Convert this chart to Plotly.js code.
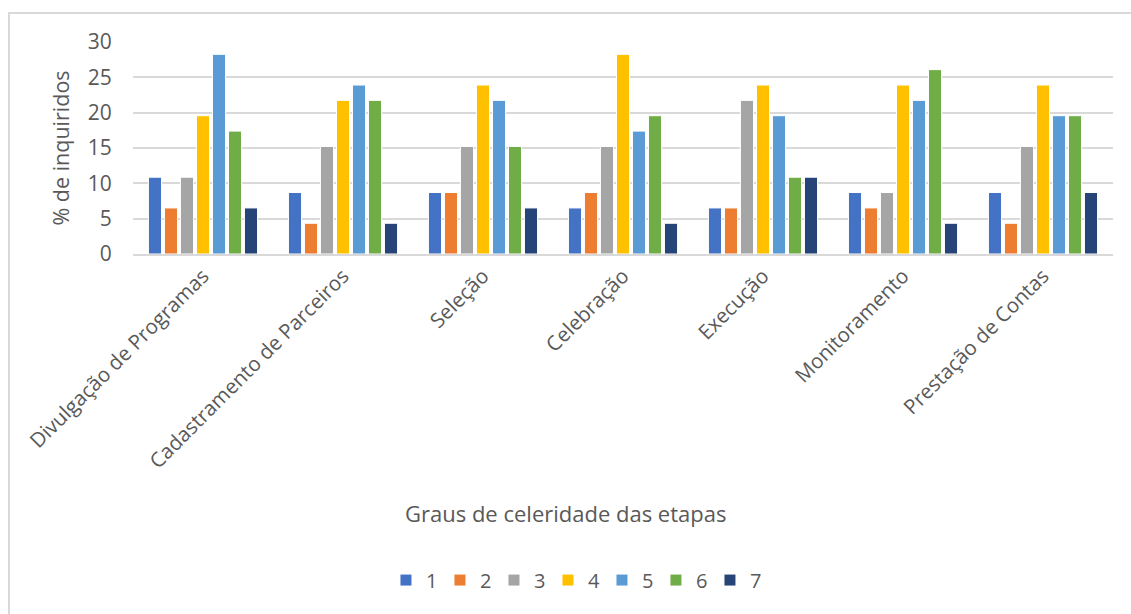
<!DOCTYPE html>
<html>
<head>
<meta charset="utf-8">
<script src="https://cdn.plot.ly/plotly-3.0.1.min.js"></script>
<style>
  html, body { margin: 0; padding: 0; background: #fff; }
  #wrap { position: relative; width: 1131px; height: 614px; overflow: hidden; }
  #chart { width: 1131px; height: 614px; }
  #frame { position: absolute; left: 8px; top: 12px; width: 1140px; height: 620px;
           border: 2px solid #d9d9d9; box-sizing: border-box; pointer-events: none; }
</style>
</head>
<body>
<div id="wrap">
  <div id="chart"></div>
  <div id="frame"></div>
</div>
<script>
const categories = ["Divulgação de Programas", "Cadastramento de Parceiros", "Seleção",
                    "Celebração", "Execução", "Monitoramento", "Prestação de Contas"];
const seriesNames = ["1", "2", "3", "4", "5", "6", "7"];
const grau1 = [10.87, 8.70, 8.70, 6.52, 6.52, 8.70, 8.70];
const grau2 = [6.52, 4.35, 8.70, 8.70, 6.52, 6.52, 4.35];
const grau3 = [10.87, 15.22, 15.22, 15.22, 21.74, 8.70, 15.22];
const grau4 = [19.57, 21.74, 23.91, 28.26, 23.91, 23.91, 23.91];
const grau5 = [28.26, 23.91, 21.74, 17.39, 19.57, 21.74, 19.57];
const grau6 = [17.39, 21.74, 15.22, 19.57, 10.87, 26.09, 19.57];
const grau7 = [6.52, 4.35, 6.52, 4.35, 10.87, 4.35, 8.70];
const yTicks = [0, 5, 10, 15, 20, 25, 30];
const xTitle = "Graus de celeridade das etapas";
const yTitle = "% de inquiridos";

const seriesValues = [grau1, grau2, grau3, grau4, grau5, grau6, grau7];
const colors = ["#4472C4", "#ED7D31", "#A5A5A5", "#FFC000", "#5B9BD5", "#70AD47", "#264478"];

const traces = seriesValues.map((vals, i) => ({
  type: "bar",
  name: seriesNames[i],
  x: categories,
  y: vals,
  marker: { color: colors[i], line: { color: "#ffffff", width: 1 } },
  hoverinfo: "x+y+name"
}));

const font = "Open Sans, Liberation Sans, sans-serif";
const layout = {
  width: 1131, height: 614,
  margin: { l: 133, r: 18, t: 42, b: 360, pad: 0 },
  paper_bgcolor: "#ffffff", plot_bgcolor: "#ffffff",
  barmode: "group", bargap: 0.2, bargroupgap: 0.18,
  font: { family: font, color: "#595959", size: 20 },
  xaxis: {
    type: "category",
    tickangle: -45,
    tickfont: { size: 20.5, color: "#595959", family: font },
    showgrid: false, zeroline: false,
    showline: true, linecolor: "#d9d9d9", linewidth: 2,
    ticks: "", ticklen: 0,
    automargin: false
  },
  yaxis: {
    range: [0, 30],
    tickvals: yTicks,
    ticktext: yTicks.map(String),
    tickfont: { size: 21, color: "#595959", family: font },
    showgrid: true, gridcolor: "#d9d9d9", gridwidth: 2,
    zeroline: false, showline: false,
    ticks: "outside", ticklen: 16, tickcolor: "rgba(0,0,0,0)",
    automargin: false,
    title: { text: yTitle, font: { size: 21.5, color: "#595959", family: font }, standoff: 12 }
  },
  annotations: [{
    text: xTitle, xref: "paper", yref: "paper", x: 0.4418, y: -1.222,
    xanchor: "center", yanchor: "middle", showarrow: false,
    font: { size: 22, color: "#595959", family: font }
  }],
  showlegend: true,
  legend: {
    orientation: "h", x: 0.451, xanchor: "center", y: -1.538, yanchor: "middle",
    font: { size: 20, color: "#595959", family: font },
    itemwidth: 30, tracegroupgap: 0, traceorder: "normal",
    entrywidth: 9, entrywidthmode: "pixels"
  }
};

Plotly.newPlot("chart", traces, layout, { displayModeBar: false });
</script>
</body>
</html>
